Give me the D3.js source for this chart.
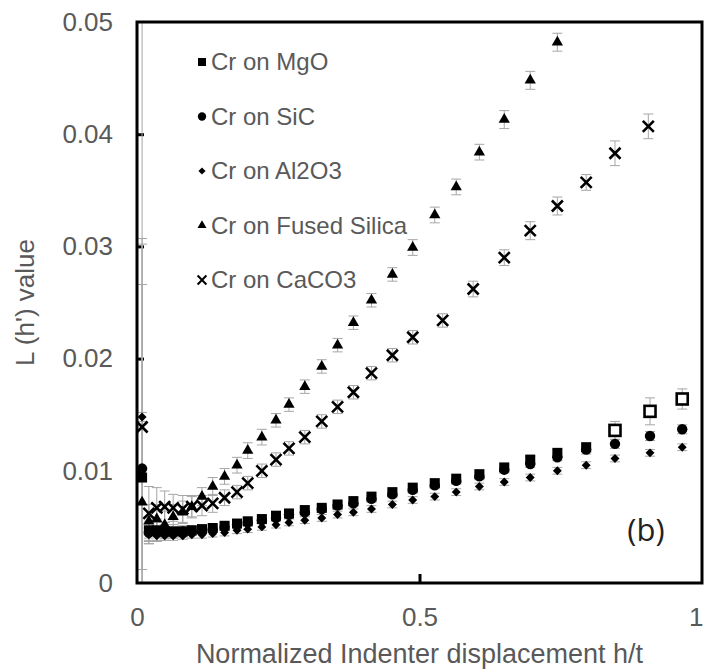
<!DOCTYPE html>
<meta charset="utf-8">
<style type="text/css">
  body { margin: 0; background: #fff; }
  svg { display: block; font-family: "Liberation Sans", Arial, sans-serif; }
  .axis text, .title, .legend text { fill: #595959; }
  .err { stroke: #a6a6a6; stroke-width: 1; fill: none; }
</style>
<body></body>
<script src="https://d3js.org/d3.v7.min.js"></script>
<script>

// common indentation steps (h/t)
var hGrid = [0.009,0.021,0.035,0.049,0.064,0.081,0.097,0.115,0.134,0.155,0.177,0.196,0.221,0.246,0.269,0.297,
             0.327,0.355,0.383,0.415,0.452,0.488,0.527,0.565,0.606,0.650,0.696,0.744,0.795,0.846,0.908,0.965];

var mgo    = [0.0094,0.0047,0.0047,0.0046,0.0046,0.0046,0.0047,0.0048,0.0049,0.0051,0.0053,0.0055,0.0057,0.0060,0.0062,
              0.0065,0.0067,0.0070,0.0073,0.0077,0.0081,0.0085,0.0089,0.0093,0.0097,0.0103,0.0110,0.0116,0.0121];
var mgoErr = [0.0500,0.0012,0.0010,0.0008,0.0006,0.0005,0.0004,0.0004,0.0003,0.0003,0.0003,0.0003,0.0003,0.0003,0.0003,
              0.0003,0.0003,0.0003,0.0003,0.0003,0.0003,0.0003,0.0003,0.0003,0.0003,0.0003,0.0003,0.0003,0.0004];
// last three MgO points are drawn as open squares
var mgoOpenH   = [0.846,0.908,0.965];
var mgoOpen    = [0.0136,0.0153,0.0164];
var mgoOpenErr = [0.0008,0.0012,0.0009];

var sic    = [0.0102,0.0045,0.0046,0.0046,0.0045,0.0046,0.0046,0.0047,0.0048,0.0050,0.0052,0.0054,0.0056,0.0058,0.0061,0.0063,
              0.0066,0.0069,0.0071,0.0075,0.0079,0.0083,0.0087,0.0091,0.0095,0.0101,0.0106,0.0112,0.0119,0.0124,0.0131,0.0137];
var sicErr = [0.0200,0.0010,0.0008,0.0006,0.0005,0.0004,0.0003,0.0003,0.0003,0.0003,0.0003,0.0003,0.0003,0.0003,0.0003,0.0003,
              0.0003,0.0003,0.0003,0.0003,0.0003,0.0003,0.0003,0.0003,0.0003,0.0003,0.0003,0.0003,0.0004,0.0004,0.0004,0.0004];

var al2o3    = [0.0148,0.0043,0.0042,0.0042,0.0042,0.0042,0.0043,0.0043,0.0044,0.0045,0.0047,0.0048,0.0050,0.0052,0.0054,0.0056,
                0.0058,0.0061,0.0063,0.0066,0.0070,0.0074,0.0077,0.0081,0.0086,0.0090,0.0094,0.0100,0.0105,0.0111,0.0116,0.0121];
var al2o3Err = [0.0004,0.0006,0.0005,0.0004,0.0004,0.0003,0.0003,0.0003,0.0003,0.0003,0.0003,0.0003,0.0003,0.0003,0.0003,0.0003,
                0.0003,0.0003,0.0003,0.0003,0.0003,0.0003,0.0003,0.0003,0.0003,0.0003,0.0003,0.0003,0.0003,0.0003,0.0003,0.0003];

var silica    = [0.0072,0.0055,0.0057,0.0052,0.0059,0.0063,0.0068,0.0077,0.0086,0.0095,0.0105,0.0118,0.0130,0.0145,
                 0.0159,0.0175,0.0193,0.0212,0.0232,0.0252,0.0275,0.0299,0.0328,0.0353,0.0384,0.0413,0.0448,0.0482];
var silicaErr = [0.0235,0.0015,0.0013,0.0012,0.0011,0.0010,0.0009,0.0008,0.0008,0.0007,0.0007,0.0007,0.0007,0.0006,
                 0.0006,0.0006,0.0006,0.0006,0.0006,0.0006,0.0006,0.0007,0.0007,0.0007,0.0007,0.0008,0.0008,0.0008];

var caco3H   = [0.009,0.021,0.035,0.049,0.064,0.081,0.097,0.115,0.134,0.155,0.177,0.196,0.221,0.246,0.269,0.297,
                0.327,0.355,0.383,0.415,0.452,0.488,0.541,0.595,0.650,0.696,0.744,0.795,0.846,0.905];
var caco3    = [0.0139,0.0062,0.0067,0.0068,0.0067,0.0066,0.0068,0.0069,0.0071,0.0076,0.0081,0.0089,0.0100,0.0110,0.0120,0.0130,
                0.0144,0.0157,0.0170,0.0187,0.0203,0.0219,0.0234,0.0262,0.0290,0.0314,0.0336,0.0357,0.0383,0.0407];
var caco3Err = [0.0127,0.0024,0.0018,0.0014,0.0012,0.0012,0.0010,0.0009,0.0008,0.0007,0.0006,0.0006,0.0006,0.0006,0.0006,0.0006,
                0.0006,0.0006,0.0006,0.0006,0.0006,0.0006,0.0006,0.0007,0.0007,0.0008,0.0008,0.0007,0.0011,0.0011];

var yTicks = [0, 0.01, 0.02, 0.03, 0.04, 0.05];
var yTickLabels = ["0", "0.01", "0.02", "0.03", "0.04", "0.05"];
var xTicks = [0, 0.5, 1];
var xTickLabels = ["0", "0.5", "1"];
var legendNames = ["Cr on MgO", "Cr on SiC", "Cr on Al2O3", "Cr on Fused Silica", "Cr on CaCO3"];

var W = 704, H = 671;
var margin = {top: 22, right: 2, bottom: 88, left: 137};
var width = W - margin.left - margin.right,
    height = H - margin.top - margin.bottom;

var svg = d3.select("body").append("svg")
    .attr("width", W)
    .attr("height", H);

var g = svg.append("g")
    .attr("transform", "translate(" + margin.left + "," + margin.top + ")");

var x = d3.scaleLinear().domain([0, 1]).range([0, width]);
var y = d3.scaleLinear().domain([0, 0.05]).range([height, 0]);

g.append("clipPath").attr("id", "clip")
  .append("rect").attr("width", width).attr("height", height);

// tick labels (outside), ticks drawn inside separately
g.append("g").attr("class", "axis")
    .call(d3.axisLeft(y).tickValues(yTicks).tickSize(0).tickPadding(24)
      .tickFormat(function(d, i) { return yTickLabels[i]; }))
    .call(function(s) { s.select(".domain").remove(); })
    .selectAll("text").style("font-size", "26px");

g.append("g").attr("class", "axis")
    .attr("transform", "translate(0," + height + ")")
    .call(d3.axisBottom(x).tickValues(xTicks).tickSize(0).tickPadding(25)
      .tickFormat(function(d, i) { return xTickLabels[i]; }))
    .call(function(s) { s.select(".domain").remove(); })
    .selectAll("text").style("font-size", "26px")
    .attr("text-anchor", function(d) { return d === 1 ? "end" : "middle"; })
    .attr("dx", function(d) { return d === 1 ? 1 : 0; });

g.append("g")
    .call(d3.axisRight(y).tickValues([0.01, 0.02, 0.03, 0.04]).tickSize(7).tickFormat(""))
    .call(function(s) { s.select(".domain").remove(); s.selectAll("line").attr("stroke", "#000").attr("stroke-width", 3); });

g.append("g")
    .attr("transform", "translate(0," + height + ")")
    .call(d3.axisTop(x).tickValues([0.5]).tickSize(9).tickFormat(""))
    .call(function(s) { s.select(".domain").remove(); s.selectAll("line").attr("stroke", "#000").attr("stroke-width", 3); });

// error bars
var plot = g.append("g").attr("clip-path", "url(#clip)");

function errorBars(hs, vs, es) {
  var eg = plot.append("g").attr("class", "err");
  vs.forEach(function(v, i) {
    var cx = x(hs[i]), y1 = y(v + es[i]), y2 = y(v - es[i]);
    eg.append("line").attr("x1", cx).attr("x2", cx).attr("y1", y1).attr("y2", y2);
    eg.append("line").attr("x1", cx - 5).attr("x2", cx + 5).attr("y1", y1).attr("y2", y1);
    eg.append("line").attr("x1", cx - 5).attr("x2", cx + 5).attr("y1", y2).attr("y2", y2);
  });
}

errorBars(hGrid, mgo, mgoErr);
errorBars(mgoOpenH, mgoOpen, mgoOpenErr);
errorBars(hGrid, sic, sicErr);
errorBars(hGrid, al2o3, al2o3Err);
errorBars(hGrid, silica, silicaErr);
errorBars(caco3H, caco3, caco3Err);

// markers
var sq = d3.symbol().type(d3.symbolSquare).size(100)();
var circ = d3.symbol().type(d3.symbolCircle).size(85)();
var dia = d3.symbol().type(d3.symbolSquare).size(40)();
var tri = d3.symbol().type(d3.symbolTriangle).size(55)();

function marker(sel, kind) {
  if (kind === "x") {
    sel.append("path").attr("d", "M-5.5,-5.5L5.5,5.5M-5.5,5.5L5.5,-5.5")
      .attr("stroke", "#000").attr("stroke-width", 2.6).attr("fill", "none");
  } else if (kind === "open") {
    sel.append("rect").attr("x", -5.5).attr("y", -5.5).attr("width", 11).attr("height", 11)
      .attr("fill", "#fff").attr("stroke", "#000").attr("stroke-width", 2.6);
  } else if (kind === "dia") {
    sel.append("path").attr("d", dia).attr("transform", "rotate(45)").attr("fill", "#000");
  } else {
    sel.append("path").attr("d", kind === "sq" ? sq : kind === "circ" ? circ : tri).attr("fill", "#000");
  }
}

function points(hs, vs, kind) {
  plot.append("g").selectAll("g").data(vs).join("g")
    .attr("transform", function(d, i) { return "translate(" + x(hs[i]) + "," + y(d) + ")"; })
    .each(function() { marker(d3.select(this), kind); });
}

points(hGrid, mgo, "sq");
points(mgoOpenH, mgoOpen, "open");
points(hGrid, sic, "circ");
points(hGrid, al2o3, "dia");
points(hGrid, silica, "tri");
points(caco3H, caco3, "x");

// frame
g.append("rect").attr("width", width).attr("height", height)
  .attr("fill", "none").attr("stroke", "#000").attr("stroke-width", 3);

// legend
var kinds = ["sq", "circ", "dia", "tri", "x"];
var legend = svg.append("g").attr("class", "legend");
legendNames.forEach(function(name, i) {
  var row = legend.append("g").attr("transform", "translate(202," + (62 + i * 54.5) + ")");
  var m = row.append("g").attr("transform", "scale(0.8)");
  marker(m, kinds[i]);
  row.append("text").attr("x", 9).attr("dy", "0.35em").style("font-size", "24px").text(name);
});

svg.append("text").attr("x", 646).attr("y", 541)
  .attr("text-anchor", "middle").style("font-family", "'Open Sans', sans-serif")
  .style("font-size", "31px").attr("fill", "#222").text("(b)");

svg.append("text").attr("class", "title")
  .attr("transform", "translate(34," + (margin.top + height / 2) + ") rotate(-90)")
  .attr("text-anchor", "middle").style("font-size", "26px").text("L (h') value");

svg.append("text").attr("class", "title")
  .attr("x", margin.left + width / 2).attr("y", 663)
  .attr("text-anchor", "middle").style("font-size", "27px").text("Normalized Indenter displacement h/t");

</script>
